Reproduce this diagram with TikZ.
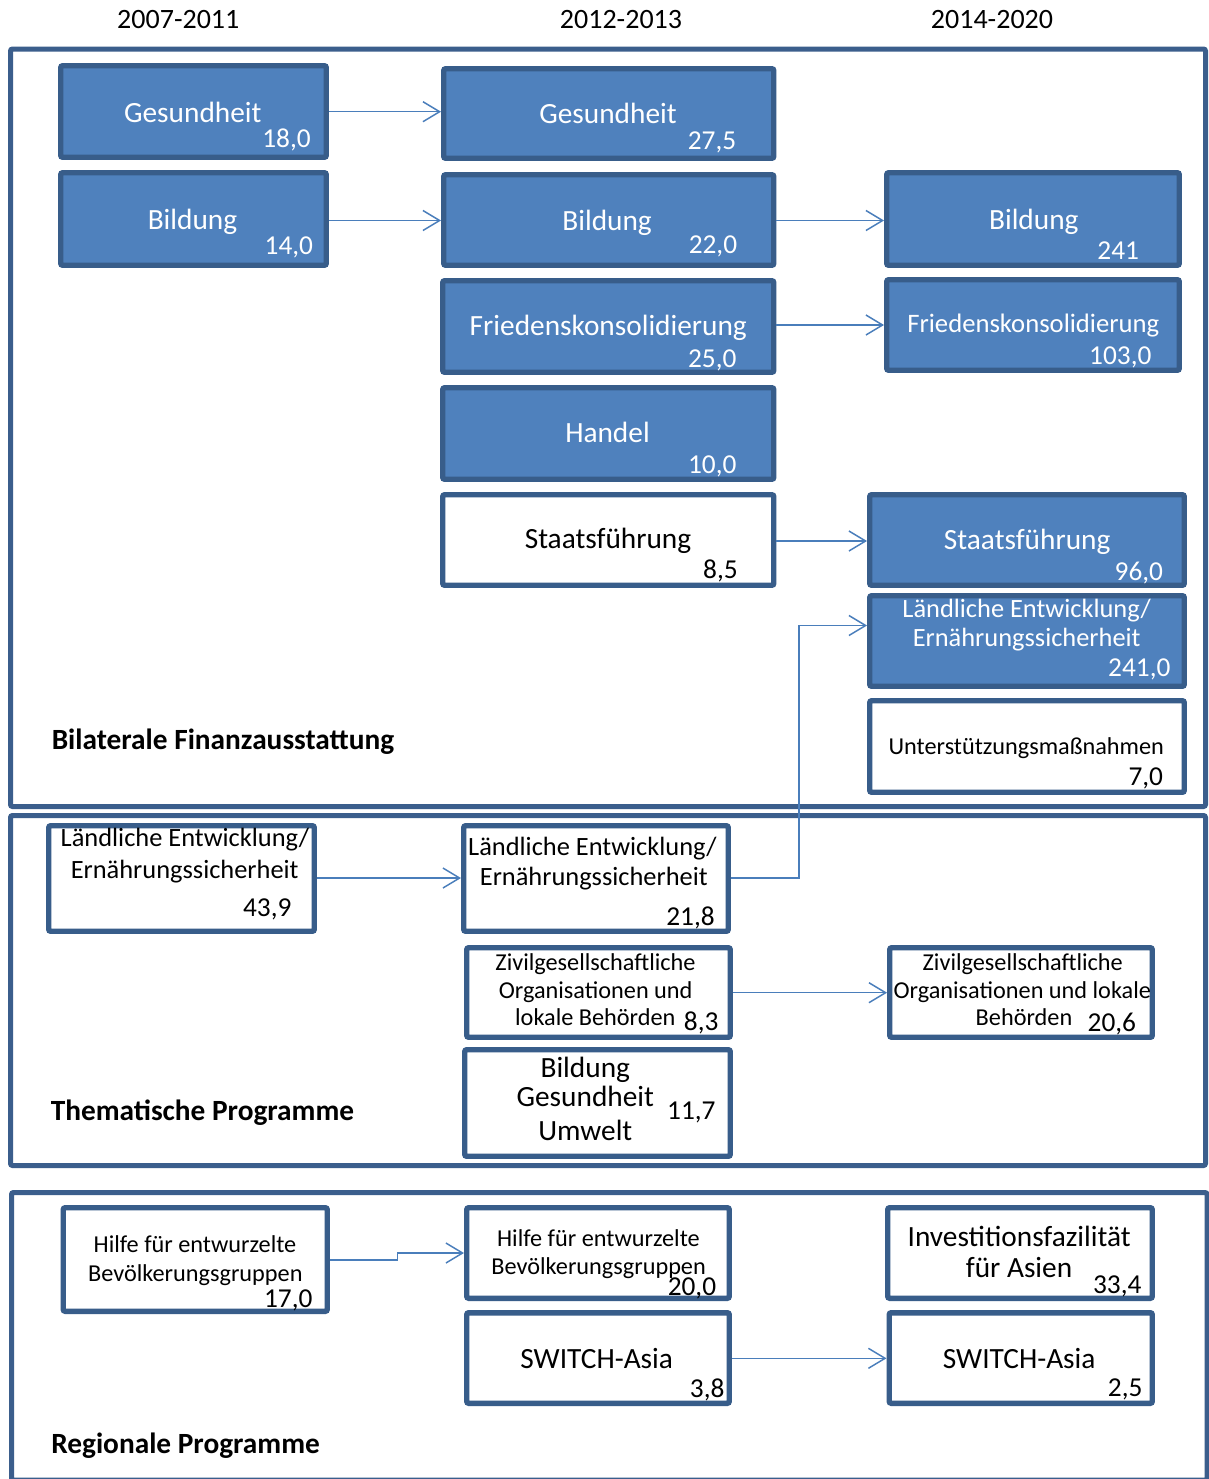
\documentclass[tikz,border=0pt]{standalone}
\usepackage{fontspec}
\setmainfont{Carlito}
\usetikzlibrary{arrows.meta}
\definecolor{boxfill}{HTML}{4F81BD}
\definecolor{boxline}{HTML}{385D8A}
\definecolor{frameline}{HTML}{3B5E8C}
\definecolor{connline}{HTML}{4A7EBB}
\newcommand\fmain{\fontsize{22pt}{26pt}\selectfont}
\newcommand\fnum{\fontsize{20.5pt}{24pt}\selectfont}
\newcommand\fsmall{\fontsize{18.2pt}{22pt}\selectfont}
\newcommand\fland{\fontsize{19.8pt}{24pt}\selectfont}
\newcommand\ffried{\fontsize{20pt}{24pt}\selectfont}
\newcommand\fhead{\fontsize{21pt}{25pt}\selectfont}
\newcommand\fsect{\fontsize{22pt}{26pt}\selectfont\bfseries}
\newcommand\mkbox[6]{%
  \pgfmathsetmacro\bxw{(#5-#3-5.5)*0.75}%
  \pgfmathsetmacro\bxh{(#6-#4-5.5)*0.75}%
  \node[#2, minimum width=\bxw pt, minimum height=\bxh pt] (#1) at ({(#3+#5)/2},{(#4+#6)/2}) {};}
\begin{document}
\begin{tikzpicture}[x=0.75pt,y=-0.75pt,
  bluebox/.style={draw=boxline, fill=boxfill, line width=4.1pt, rounded corners=1.5pt, inner sep=0pt},
  whitebox/.style={draw=boxline, fill=white, line width=4.1pt, rounded corners=1.5pt, inner sep=0pt},
  frame/.style={draw=frameline, line width=3.75pt, rounded corners=1.5pt},
  conn/.style={draw=connline, line width=1.1pt, -{Straight Barb[length=12.5pt,width=15pt,line width=1.1pt]}},
  wt/.style={text=white, inner sep=0pt},
  bt/.style={text=black, inner sep=0pt}]
\useasboundingbox (0,0) rectangle (1208,1479);
\fill[white] (0,0) rectangle (1208,1479);

% headers
\node[bt, anchor=base] (h1) at (178.3,28.3) {\fhead 2007-2011};
\node[bt, anchor=base] (h2) at (621,28.3) {\fhead 2012-2013};
\node[bt, anchor=base] (h3) at (992,28.3) {\fhead 2014-2020};

% frames
\draw[frame] (10.5,49) rectangle (1205.5,806.5);
\draw[frame] (10.5,815.5) rectangle (1205.5,1165.5);
\draw[frame] (11.5,1192.5) rectangle (1207,1480);

% ---- Bilaterale
\mkbox{g1}{bluebox}{58}{63}{329}{160}
\mkbox{b1}{bluebox}{58}{170}{329}{268}
\mkbox{g2}{bluebox}{441}{66}{776.5}{161}
\mkbox{b2}{bluebox}{441}{172}{776.5}{268}
\mkbox{f2}{bluebox}{440}{278}{776.5}{375}
\mkbox{h2b}{bluebox}{440}{385}{776.5}{482}
\mkbox{s2}{whitebox}{440}{492}{776.5}{588}
\mkbox{b3}{bluebox}{884}{170}{1182}{268}
\mkbox{f3}{bluebox}{884}{277}{1182}{373}
\mkbox{s3}{bluebox}{867}{492}{1187}{588}
\mkbox{l3}{bluebox}{867}{593}{1187}{689}
\mkbox{u3}{whitebox}{867}{698}{1187}{795}

\node[wt, anchor=base] (g1t) at (192.8,122.7) {\fmain Gesundheit};
\node[wt, anchor=base east] (g1n) at (311,147) {\fnum 18,0};
\node[wt, anchor=base] (b1t) at (192.5,229.3) {\fmain Bildung};
\node[wt, anchor=base east] (b1n) at (313.3,254) {\fnum 14,0};
\node[wt, anchor=base] (g2t) at (608,123.3) {\fmain Gesundheit};
\node[wt, anchor=base east] (g2n) at (736.5,149.3) {\fnum 27,5};
\node[wt, anchor=base] (b2t) at (607.1,230) {\fmain Bildung};
\node[wt, anchor=base east] (b2n) at (737.4,253.5) {\fnum 22,0};
\node[wt, anchor=base] (f2t) at (608.3,335.7) {\fmain Friedenskonsolidierung};
\node[wt, anchor=base east] (f2n) at (736.7,367.7) {\fnum 25,0};
\node[wt, anchor=base] (h2t) at (607.5,442.7) {\fmain Handel};
\node[wt, anchor=base east] (h2n) at (736.7,473.3) {\fnum 10,0};
\node[bt, anchor=base] (s2t) at (608,548.5) {\fmain Staatsführung};
\node[bt, anchor=base east] (s2n) at (738,578) {\fnum 8,5};
\node[wt, anchor=base] (b3t) at (1033.8,229.3) {\fmain Bildung};
\node[wt, anchor=base east] (b3n) at (1139.3,259) {\fnum 241};
\node[wt, anchor=base] (f3t) at (1033.3,332.7) {\ffried Friedenskonsolidierung};
\node[wt, anchor=base east] (f3n) at (1151.7,364) {\fnum 103,0};
\node[wt, anchor=base] (s3t) at (1027.2,549.3) {\fmain Staatsführung};
\node[wt, anchor=base east] (s3n) at (1163.3,580.7) {\fnum 96,0};
\node[wt, anchor=base] (l3a) at (1026.7,617.3) {\fland Ländliche Entwicklung/};
\node[wt, anchor=base] (l3b) at (1026.7,646.7) {\fland Ernährungssicherheit};
\node[wt, anchor=base east] (l3n) at (1170.7,676.7) {\fnum 241,0};
\node[bt, anchor=base] (u3t) at (1026.3,754) {\fsmall Unterstützungsmaßnahmen};
\node[bt, anchor=base east] (u3n) at (1163.3,785) {\fnum 7,0};
\node[bt, anchor=base west] (bilat) at (51.5,749.3) {\fsect Bilaterale Finanzausstattung};

% ---- Thematische
\mkbox{l1t}{whitebox}{46}{823}{317}{934}
\mkbox{l2t}{whitebox}{461}{823}{731}{934}
\mkbox{z2}{whitebox}{464}{945}{733}{1040}
\mkbox{bgu}{whitebox}{462}{1047}{733}{1159}
\mkbox{z3}{whitebox}{887}{945}{1155}{1040}

\node[bt, anchor=base] (l1a) at (185,846.7) {\fland Ländliche Entwicklung/};
\node[bt, anchor=base] (l1b) at (184.7,878.3) {\fland Ernährungssicherheit};
\node[bt, anchor=base east] (l1n) at (291.7,916.7) {\fnum 43,9};
\node[bt, anchor=base] (l2a) at (592.5,855) {\fland Ländliche Entwicklung/};
\node[bt, anchor=base] (l2b) at (593.8,885) {\fland Ernährungssicherheit};
\node[bt, anchor=base east] (l2n) at (715,925) {\fnum 21,8};
\node[bt, anchor=base] (z2a) at (595.5,970.7) {\fsmall Zivilgesellschaftliche};
\node[bt, anchor=base] (z2b) at (595.7,998.3) {\fsmall Organisationen und};
\node[bt, anchor=base east] (z2c) at (675.7,1025.7) {\fsmall lokale Behörden};
\node[bt, anchor=base east] (z2n) at (718.7,1030) {\fnum 8,3};
\node[bt, anchor=base] (z3a) at (1022.7,970.7) {\fsmall Zivilgesellschaftliche};
\node[bt, anchor=base] (z3b) at (1022.3,998.3) {\fsmall Organisationen und lokale};
\node[bt, anchor=base] (z3c) at (1024,1025.7) {\fsmall Behörden};
\node[bt, anchor=base east] (z3n) at (1136.3,1031.7) {\fnum 20,6};
\node[bt, anchor=base] (bgu1) at (585.3,1077.3) {\fmain Bildung};
\node[bt, anchor=base] (bgu2) at (585.3,1106.7) {\fmain Gesundheit};
\node[bt, anchor=base] (bgu3) at (585.3,1140) {\fmain Umwelt};
\node[bt, anchor=base east] (bgun) at (715.8,1119.3) {\fnum 11,7};
\node[bt, anchor=base west] (them) at (50.5,1120) {\fsect Thematische Programme};

% ---- Regionale
\mkbox{hf1}{whitebox}{60.5}{1205}{330}{1314}
\mkbox{hf2}{whitebox}{464}{1205}{732}{1301}
\mkbox{sw2}{whitebox}{464}{1310}{732}{1406}
\mkbox{inv}{whitebox}{885}{1205}{1155}{1301}
\mkbox{sw3}{whitebox}{886.5}{1310}{1155}{1406}

\node[bt, anchor=base] (hf1a) at (195,1252.7) {\fsmall Hilfe für entwurzelte};
\node[bt, anchor=base] (hf1b) at (195.3,1281.7) {\fsmall Bevölkerungsgruppen};
\node[bt, anchor=base east] (hf1n) at (312.7,1307.3) {\fnum 17,0};
\node[bt, anchor=base] (hf2a) at (598.4,1246) {\fsmall Hilfe für entwurzelte};
\node[bt, anchor=base] (hf2b) at (598.6,1274.3) {\fsmall Bevölkerungsgruppen};
\node[bt, anchor=base east] (hf2n) at (716.4,1295) {\fnum 20,0};
\node[bt, anchor=base] (sw2t) at (596.7,1368.3) {\fmain SWITCH-Asia};
\node[bt, anchor=base east] (sw2n) at (724.7,1397.3) {\fnum 3,8};
\node[bt, anchor=base] (inva) at (1019.2,1246) {\fmain Investitionsfazilität};
\node[bt, anchor=base] (invb) at (1019,1277.3) {\fmain für Asien};
\node[bt, anchor=base east] (invn) at (1141.7,1293.3) {\fnum 33,4};
\node[bt, anchor=base] (sw3t) at (1019.2,1368.3) {\fmain SWITCH-Asia};
\node[bt, anchor=base east] (sw3n) at (1142.7,1396.7) {\fnum 2,5};
\node[bt, anchor=base west] (regio) at (51,1453.3) {\fsect Regionale Programme};

% ---- connectors
\draw[conn] (g1.east |- 0,111.7) -- (g2.west |- 0,111.7);
\draw[conn] (b1.east |- 0,220.5) -- (b2.west |- 0,220.5);
\draw[conn] (b2.east |- 0,220.5) -- (b3.west |- 0,220.5);
\draw[conn] (f2.east |- 0,325) -- (f3.west |- 0,325);
\draw[conn] (s2.east |- 0,541) -- (s3.west |- 0,541);
\draw[conn] (l2t.east |- 0,878) -- (799,878) -- (799,625.5) -- (l3.west |- 0,625.5);
\draw[conn] (l1t.east |- 0,878) -- (l2t.west |- 0,878);
\draw[conn] (z2.east |- 0,992.7) -- (z3.west |- 0,992.7);
\draw[conn] (hf1.east |- 0,1260) -- (397.5,1260) -- (397.5,1253) -- (hf2.west |- 0,1253);
\draw[conn] (sw2.east |- 0,1358.3) -- (sw3.west |- 0,1358.3);
\end{tikzpicture}
\end{document}
